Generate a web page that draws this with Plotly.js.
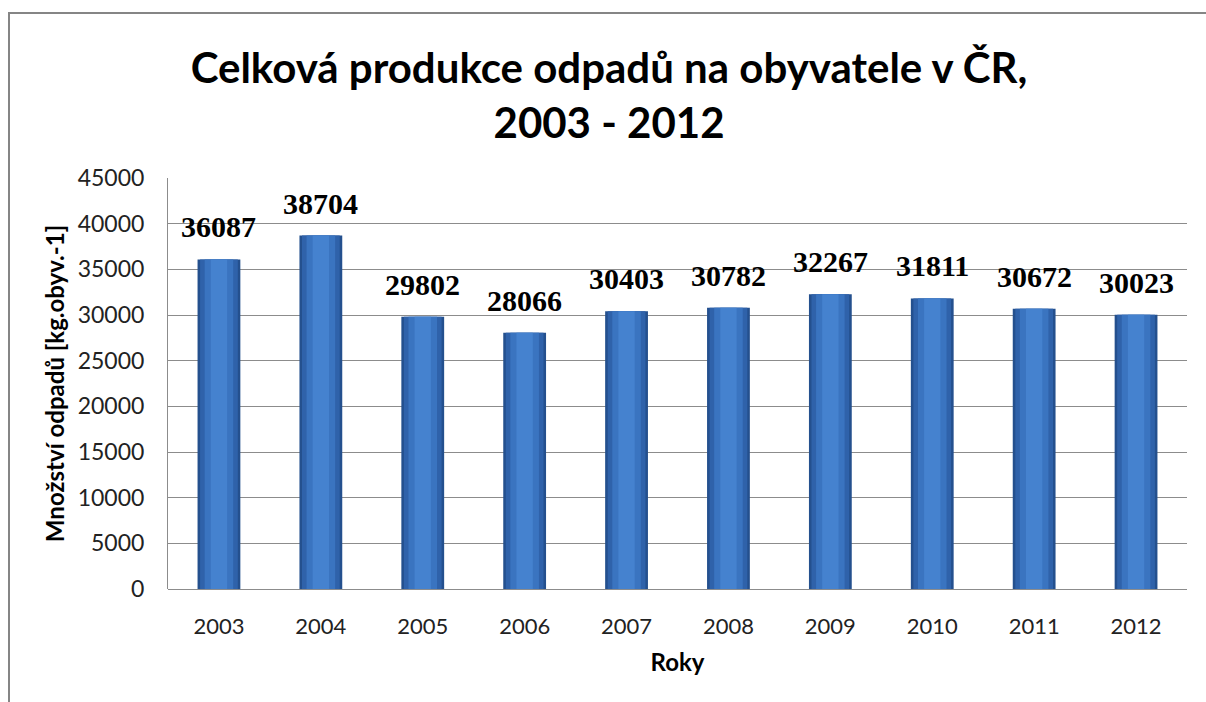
<!DOCTYPE html>
<html>
<head>
<meta charset="utf-8">
<script src="https://cdn.plot.ly/plotly-3.0.1.min.js"></script>
<style>html,body{margin:0;padding:0;background:#fff;}#chart{width:1206px;height:702px;}</style>
</head>
<body>
<div id="chart"></div>
<script>
const years = ["2003","2004","2005","2006","2007","2008","2009","2010","2011","2012"];
const values = [36087, 38704, 29802, 28066, 30403, 30782, 32267, 31811, 30672, 30023];
const yTicks = [0,5000,10000,15000,20000,25000,30000,35000,40000,45000];

const layers = [
  {w: 0.42, c: "#24508e"},
  {w: 0.37, c: "#2f62aa"},
  {w: 0.28, c: "#3a74c0"},
  {w: 0.16, c: "#4582cf"}
];
const traces = layers.map(l => ({
  type: "bar", x: years, y: values, width: l.w,
  marker: {color: l.c, line: {width: 0}},
  hoverinfo: "skip", showlegend: false
}));

const annotations = years.map((yr, i) => ({
  x: i, y: values[i], xref: "x", yref: "y",
  text: String(values[i]), showarrow: false,
  yanchor: "bottom", yshift: 14,
  font: {family: "Liberation Serif, Times New Roman, serif", size: 30, color: "#000", weight: "bold"}
}));

const sans = "Lato, Open Sans, sans-serif";
const layout = {
  width: 1206, height: 702,
  margin: {l: 168, r: 19, t: 178, b: 113},
  paper_bgcolor: "#fff", plot_bgcolor: "#fff",
  barmode: "overlay",
  title: {
    text: "Celková produkce odpadů na obyvatele v ČR,<br>2003 - 2012",
    x: 0.505, xanchor: "center", y: 1 - 83/702, yanchor: "top", yref: "container",
    font: {family: sans, size: 42, color: "#000", weight: "bold"}
  },
  xaxis: {
    type: "category", range: [-0.5, 9.5], autorange: false,
    tickfont: {family: sans, size: 22, color: "#222"},
    showline: false, ticks: "", showgrid: false, ticklabelstandoff: 22,
    title: {text: "Roky", font: {family: sans, size: 24, color: "#000", weight: "bold"}, standoff: 16}
  },
  yaxis: {
    range: [0, 45000], autorange: false, tickvals: yTicks, ticktext: yTicks.map(String),
    tickfont: {family: sans, size: 23, color: "#222"},
    showgrid: true, gridcolor: "#8c8c8c", gridwidth: 1,
    zeroline: true, zerolinecolor: "#8c8c8c", zerolinewidth: 1,
    showline: true, linecolor: "#8c8c8c", linewidth: 1,
    ticks: "", ticklabelstandoff: 18,
    title: {text: "Množství odpadů [kg.obyv.-1]", font: {family: sans, size: 24, color: "#000", weight: "bold"}, standoff: 6}
  },
  annotations: annotations,
  shapes: [{
    type: "rect", xref: "paper", yref: "paper",
    x0: (9-168)/1019, x1: 1.2, y0: -0.5, y1: (589-13)/411,
    line: {color: "#858585", width: 2}, fillcolor: "rgba(0,0,0,0)", layer: "below"
  }]
};

Plotly.newPlot("chart", traces, layout, {displayModeBar: false, staticPlot: true});
</script>
</body>
</html>
